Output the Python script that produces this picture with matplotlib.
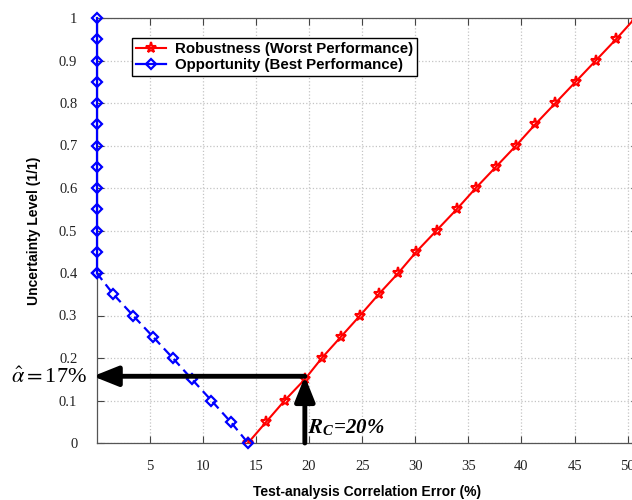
import matplotlib.pyplot as plt
import numpy as np

# uncertainty levels (y) and correlation error (x) for both curves
opp_level = [1.0, 0.95, 0.9, 0.85, 0.8, 0.75, 0.7, 0.65, 0.6, 0.55, 0.5, 0.45,
             0.4, 0.35, 0.3, 0.25, 0.2, 0.15, 0.1, 0.05, 0.0]
opp_error = [0, 0, 0, 0, 0, 0, 0, 0, 0, 0, 0, 0,
             0, 1.57, 3.42, 5.3, 7.16, 8.97, 10.8, 12.6, 14.25]

rob_level = [0.0, 0.05, 0.1, 0.15, 0.2, 0.25, 0.3, 0.35, 0.4, 0.45, 0.5,
             0.55, 0.6, 0.65, 0.7, 0.75, 0.8, 0.85, 0.9, 0.95, 1.0]
rob_error = [14.25, 15.97, 17.7, 19.6, 21.2, 23.0, 24.8, 26.55, 28.4, 30.1, 32.0,
             33.9, 35.7, 37.6, 39.5, 41.3, 43.2, 45.1, 47.0, 48.9, 50.7]

alpha_hat = 0.157   # uncertainty at the critical error
r_crit = 19.6       # critical correlation error

xticks = [5, 10, 15, 20, 25, 30, 35, 40, 45, 50]
yticks = [0, 0.1, 0.2, 0.3, 0.4, 0.5, 0.6, 0.7, 0.8, 0.9, 1]
ytick_labels = ["0", "0.1", "0.2", "0.3", "0.4", "0.5", "0.6", "0.7", "0.8", "0.9", "1"]

fig = plt.figure(figsize=(6.32, 5.0), dpi=100)
ax = fig.add_axes([0.153, 0.114, 0.857, 0.850])

# robustness curve (red stars) and opportunity curve (blue diamonds)
ax.plot(rob_error, rob_level, color="red", lw=1.5, marker="*", ms=8,
        mfc="none", mew=1.5, label="Robustness (Worst Performance)", zorder=3)
ax.plot(opp_error[:13], opp_level[:13], color="blue", lw=1.6, ls="-",
        marker="D", ms=5.5, mfc="none", mew=1.6, zorder=3, clip_on=False)
ax.plot(opp_error[12:], opp_level[12:], color="blue", lw=1.6, ls=(0, (4, 2.5)),
        marker="D", ms=5.5, mfc="none", mew=1.6, zorder=3, clip_on=False)
ax.plot([], [], color="blue", lw=1.6, marker="D", ms=5.5, mfc="none", mew=1.6,
        label="Opportunity (Best Performance)")

ax.set_xlim(0, 51)
ax.set_ylim(0, 1)
ax.set_xticks(xticks)
ax.set_xticklabels([str(t) for t in xticks], family="Liberation Serif", fontsize=10.5)
ax.set_yticks(yticks)
ax.set_yticklabels(ytick_labels, family="Liberation Serif", fontsize=10.5)
ax.tick_params(direction="in", top=True, right=True, length=5, width=0.8,
               color="#444444", labelcolor="#222222")
ax.tick_params(axis="y", pad=14)
ax.tick_params(axis="x", pad=12)
ax.grid(True, ls=":", color="#c4c4c4", lw=0.9)
for s in ax.spines.values():
    s.set_color("#555555")
    s.set_linewidth(0.9)

ax.set_xlabel("Test-analysis Correlation Error (%)", family="Liberation Sans",
              fontweight="bold", fontsize=10, labelpad=9)
ax.set_ylabel("Uncertainty Level (1/1)", family="Liberation Sans",
              fontweight="bold", fontsize=10, labelpad=13)

leg = ax.legend(loc="upper left", bbox_to_anchor=(0.065, 0.952),
                prop={"family": "Liberation Sans", "weight": "bold", "size": 10.8},
                fancybox=False, framealpha=1, edgecolor="black",
                borderpad=0.25, labelspacing=0.15, handlelength=2.0,
                handletextpad=0.6, borderaxespad=0)
leg.get_frame().set_linewidth(1.0)

# arrows marking the critical point
ax.annotate("", xy=(-0.35, alpha_hat), xytext=(r_crit, alpha_hat),
            arrowprops=dict(arrowstyle="-|>,head_length=1.5,head_width=0.6",
                            color="black", lw=3.5, shrinkA=0, shrinkB=0),
            annotation_clip=False, zorder=4)
ax.annotate("", xy=(r_crit, alpha_hat), xytext=(r_crit, 0),
            arrowprops=dict(arrowstyle="-|>,head_length=1.5,head_width=0.6",
                            color="black", lw=3.5, shrinkA=0, shrinkB=0),
            zorder=4)

ax.text(-0.9, alpha_hat - 0.004, r"$\hat{\alpha}=$17%", ha="right", va="center",
        fontsize=16, family="Liberation Serif", math_fontfamily="stix")
ax.text(r_crit + 0.3, 0.012, r"$\mathbfit{R}_{\mathregular{C}}$=20%", ha="left",
        va="bottom", fontsize=15, family="Liberation Serif", fontweight="bold",
        style="italic", math_fontfamily="stix")

fig.savefig("out.png", dpi=100)
